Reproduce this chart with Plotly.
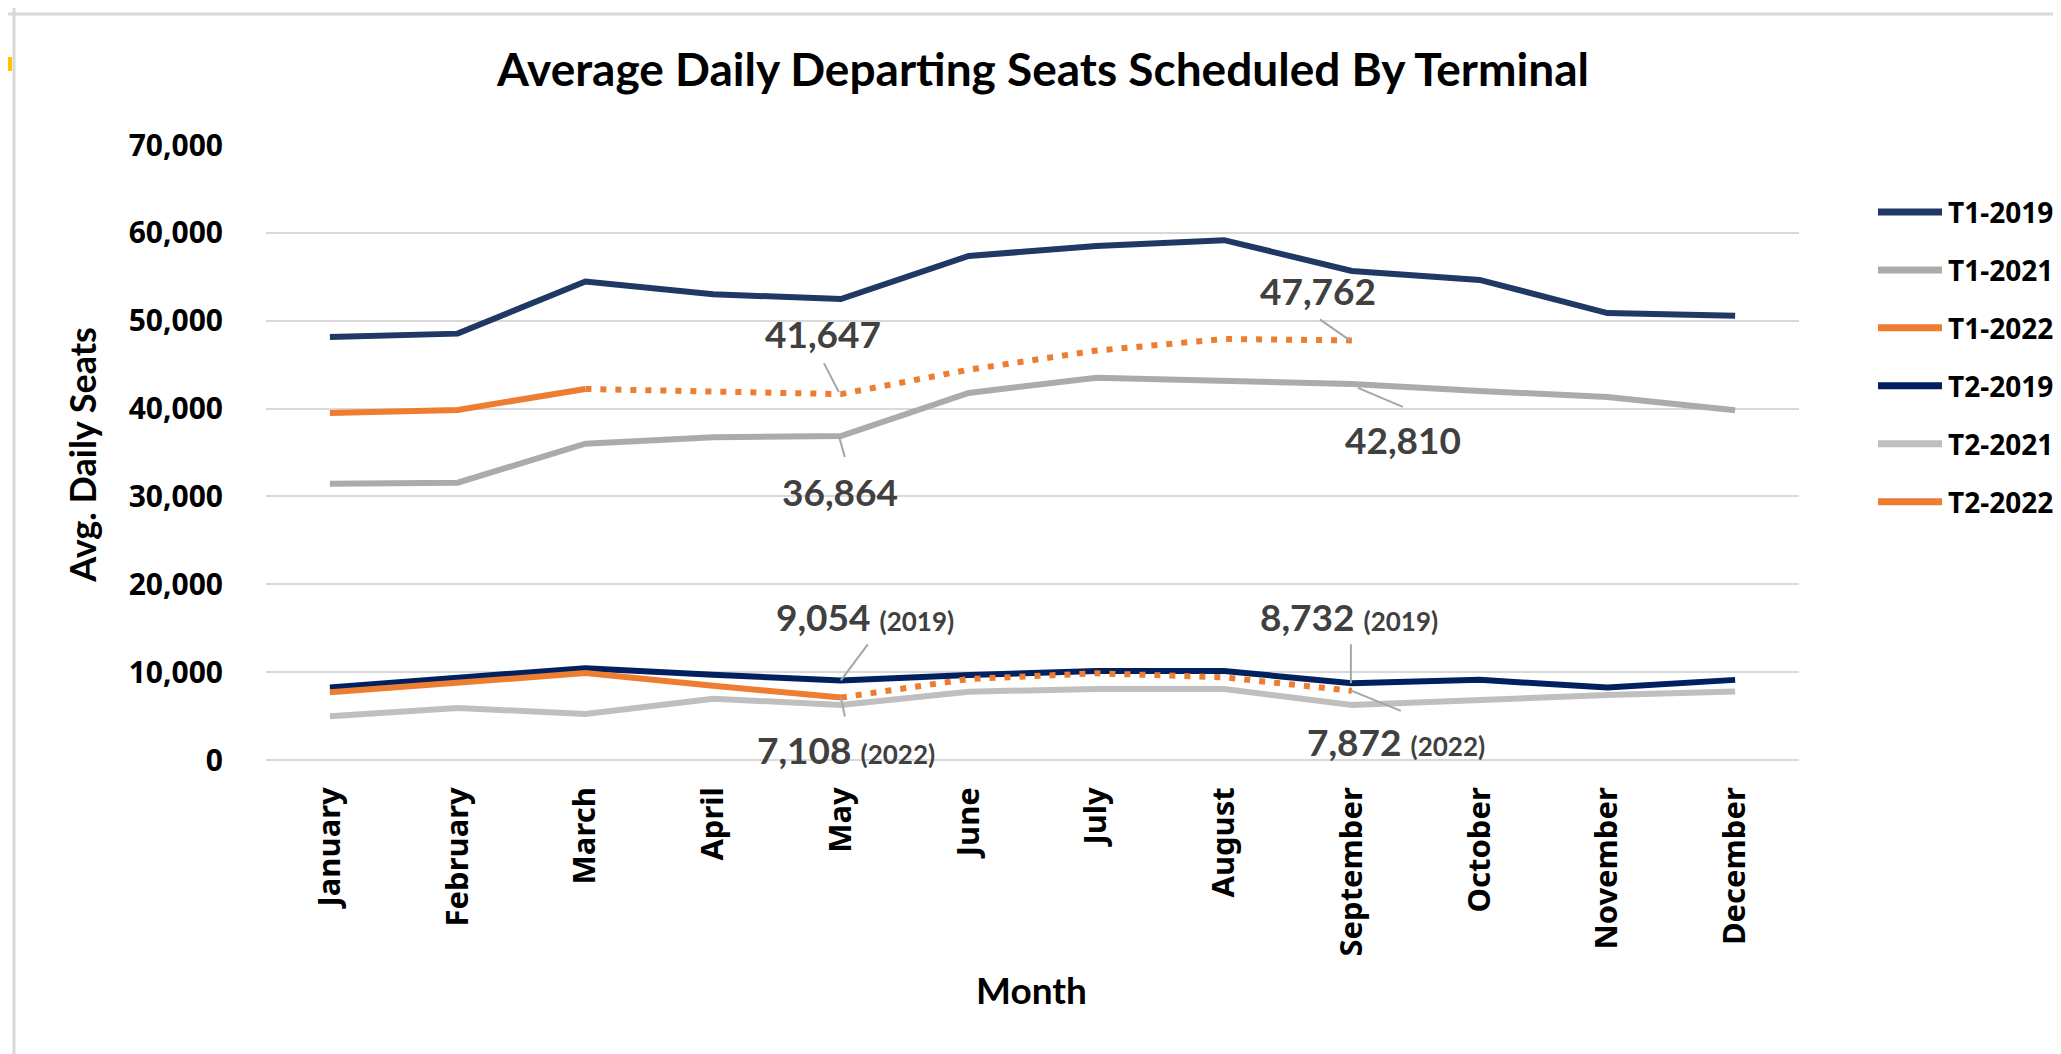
import plotly.graph_objects as go

# ---------------- data ----------------
months = ["January", "February", "March", "April", "May", "June",
          "July", "August", "September", "October", "November", "December"]

t1_2019 = [48150, 48530, 54460, 53020, 52460, 57370, 58500, 59170, 55660, 54640, 50870, 50570]
t1_2021 = [31450, 31570, 36000, 36750, 36864, 41780, 43500, 43130, 42810, 42000, 41320, 39810]
t1_2022_actual = [39510, 39850, 42230, None, None, None, None, None, None, None, None, None]
t1_2022_sched = [None, None, 42230, 41890, 41647, 44420, 46600, 47920, 47762, None, None, None]

t2_2019 = [8260, 9320, 10450, 9700, 9054, 9680, 10130, 10130, 8732, 9120, 8240, 9120]
t2_2021 = [4980, 5920, 5250, 6980, 6260, 7780, 8090, 8090, 6260, 6830, 7400, 7790]
t2_2022_actual = [7700, 8870, 9890, 8450, 7108, None, None, None, None, None, None, None]
t2_2022_sched = [None, None, None, None, 7108, 9220, 9870, 9410, 7872, None, None, None]

series_names = ["T1-2019", "T1-2021", "T1-2022", "T2-2019", "T2-2021", "T2-2022"]
series_colors = ["#203864", "#AEAAAA", "#ED7D31", "#002060", "#BFBFBF", "#ED7D31"]

y_ticks = [0, 10000, 20000, 30000, 40000, 50000, 60000, 70000]

title_text = "Average Daily Departing Seats Scheduled By Terminal"
x_title = "Month"
y_title = "Avg. Daily Seats"

# labelled points: (month index, value, main text, sub text, text dx, text dy, leader x0,y0,x1,y1)
labels = [
    (4, 41647, "41,647", "", -18, 61, -2, 2, -17, 31),
    (4, 36864, "36,864", "", -1, -55, -2, 0, 4, -21),
    (8, 47762, "47,762", "", -34, 50, -32, 21, -2, 0),
    (8, 42810, "42,810", "", 51, -56, 6, -4, 51, -23),
    (4, 9054, "9,054", "(2019)", 24, 64, 27, 36, 0, 0),
    (4, 7108, "7,108", "(2022)", 5, -52, 0, 0, 4, -19),
    (8, 8732, "8,732", "(2019)", -3, 67, -1, 39, -1, 0),
    (8, 7872, "7,872", "(2022)", 44, -51, 0, 0, 49, -20),
]

# ---------------- layout geometry ----------------
W, H = 2061, 1054
L, R, T, B = 258, 1791, 137, 752.5


def pxx(x):
    return (x - L) / (R - L)


def pxy(y):
    return (B - y) / (B - T)


fig = go.Figure()


def add_line(y, color, dash="solid"):
    fig.add_trace(go.Scatter(
        x=months, y=y, mode="lines",
        line=dict(color=color, width=6, dash=dash),
        connectgaps=False, showlegend=False, hoverinfo="skip"))


add_line(t1_2019, series_colors[0])
add_line(t1_2021, series_colors[1])
add_line(t1_2022_actual, series_colors[2])
add_line(t1_2022_sched, series_colors[2], dash="6px,9px")
add_line(t2_2019, series_colors[3])
add_line(t2_2021, series_colors[4])
add_line(t2_2022_actual, series_colors[5])
add_line(t2_2022_sched, series_colors[5], dash="6px,9px")

shapes = []
annotations = []

# data labels with leader lines
for (mi, val, main, sub, dx, dy, lx0, ly0, lx1, ly1) in labels:
    shapes.append(dict(
        type="line", xref="x", yref="y",
        xsizemode="pixel", ysizemode="pixel",
        xanchor=months[mi], yanchor=val,
        x0=lx0, y0=ly0, x1=lx1, y1=ly1,
        line=dict(color="#A6A6A6", width=2), layer="above"))
    txt = "<b>" + main + "</b>"
    if sub:
        txt += " <span style='font-size:26px'>" + sub + "</span>"
    annotations.append(dict(
        x=months[mi], y=val, xref="x", yref="y", text=txt,
        showarrow=False, xshift=dx, yshift=dy,
        xanchor="center", yanchor="middle",
        font=dict(family="Lato", size=37, color="#404040", weight="bold")))

# custom legend
leg_y = [204, 262, 320, 378, 436, 494]
for name, col, yy in zip(series_names, series_colors, leg_y):
    shapes.append(dict(type="line", xref="paper", yref="paper",
                       x0=pxx(1870), x1=pxx(1934), y0=pxy(yy), y1=pxy(yy),
                       line=dict(color=col, width=7)))
    annotations.append(dict(x=pxx(1938), y=pxy(yy), xref="paper", yref="paper",
                            text="<b>" + name + "</b>", showarrow=False,
                            xanchor="left", yanchor="middle",
                            font=dict(family="Noto Sans", size=28, color="#000000")))

# axis titles
annotations.append(dict(x=pxx(1023), y=pxy(982), xref="paper", yref="paper",
                        text="<b>" + x_title + "</b>", showarrow=False,
                        xanchor="center", yanchor="middle",
                        font=dict(family="Lato", size=37, color="#000000")))
annotations.append(dict(x=pxx(74), y=pxy(447), xref="paper", yref="paper",
                        text="<b>" + y_title + "</b>", showarrow=False, textangle=-90,
                        xanchor="center", yanchor="middle",
                        font=dict(family="Lato", size=36, color="#000000")))

# frame lines and little yellow mark at the left edge
shapes.append(dict(type="line", xref="paper", yref="paper",
                   x0=pxx(0), x1=pxx(W), y0=pxy(6), y1=pxy(6),
                   line=dict(color="#D9D9D9", width=3)))
shapes.append(dict(type="line", xref="paper", yref="paper",
                   x0=pxx(6), x1=pxx(6), y0=pxy(0), y1=pxy(H),
                   line=dict(color="#D9D9D9", width=3)))
shapes.append(dict(type="rect", xref="paper", yref="paper",
                   x0=pxx(0), x1=pxx(4), y0=pxy(49), y1=pxy(63),
                   line=dict(width=0), fillcolor="#FFC000"))

fig.update_layout(
    width=W, height=H,
    margin=dict(l=L, r=W - R, t=T, b=H - B, autoexpand=False),
    paper_bgcolor="white", plot_bgcolor="white",
    showlegend=False,
    title=dict(text="<b>" + title_text + "</b>", x=1035 / W, xanchor="center",
               y=1 - 62 / H, yanchor="middle", xref="container", yref="container",
               font=dict(family="Lato", size=46, color="#000000")),
    shapes=shapes, annotations=annotations,
)

fig.update_xaxes(
    type="category", categoryorder="array", categoryarray=months,
    range=[-0.5, 11.5], showgrid=False, zeroline=False, showline=False,
    ticks="", tickangle=-90, ticklabelstandoff=20,
    tickfont=dict(family="Noto Sans", size=31, color="#000000", weight="bold"))

fig.update_yaxes(
    range=[0, 70000], tickvals=y_ticks, tickformat=",",
    showgrid=True, gridcolor="#D9D9D9", gridwidth=2,
    zeroline=True, zerolinecolor="#D9D9D9", zerolinewidth=2,
    showline=False, ticks="", ticklabelstandoff=42,
    tickfont=dict(family="Noto Sans", size=30, color="#000000", weight="bold"))

fig.write_html("out.html")
